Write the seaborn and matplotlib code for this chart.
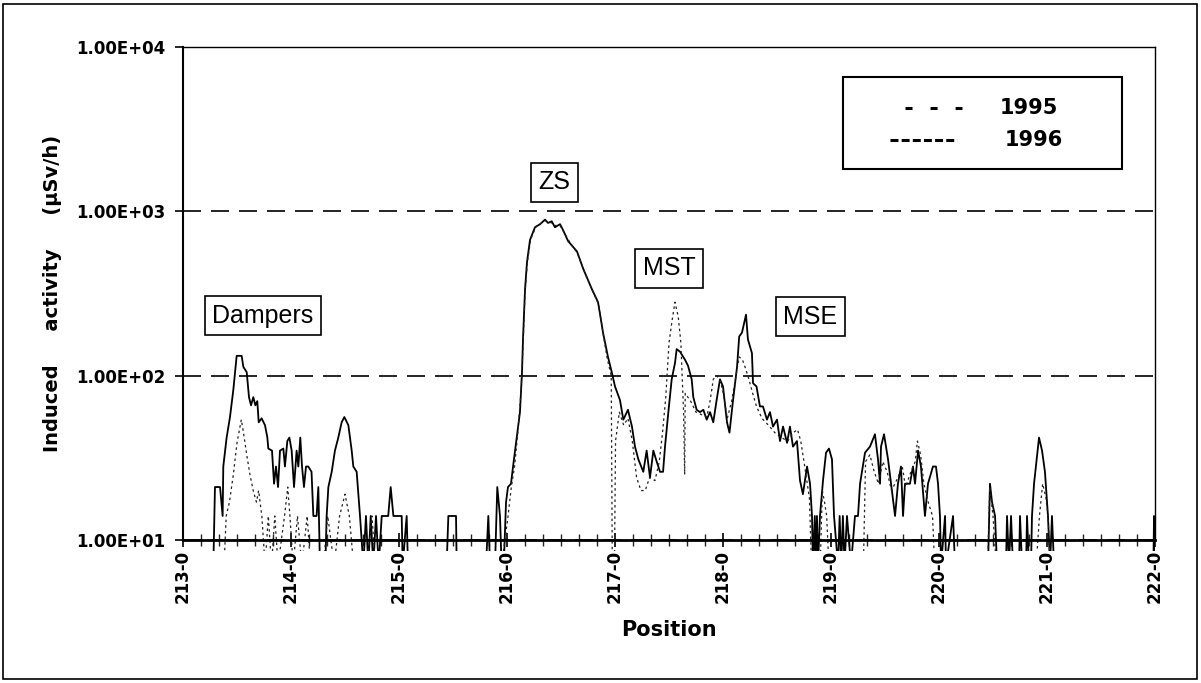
import matplotlib
matplotlib.use("Agg")
import matplotlib.pyplot as plt
import matplotlib.ticker as mticker
from matplotlib.patches import Rectangle
from matplotlib.lines import Line2D
import seaborn as sns

# Data: position along the line and induced activity (uSv/h)
# values of 7 stand for readings under the 10 uSv/h floor of the axis
pos_1996 = [
    213.000, 213.281, 213.296, 213.343, 213.367, 213.373, 213.404, 213.435, 213.466, 213.497,
    213.543, 213.559, 213.590, 213.611, 213.630, 213.651, 213.670, 213.688, 213.701, 213.728,
    213.759, 213.781, 213.790, 213.824, 213.843, 213.861, 213.880, 213.898, 213.929, 213.944,
    213.966, 213.985, 214.006, 214.028, 214.052, 214.068, 214.086, 214.102, 214.120, 214.139,
    214.160, 214.190, 214.207, 214.237, 214.253, 214.268, 214.318, 214.330, 214.346, 214.377,
    214.407, 214.438, 214.469, 214.494, 214.531, 214.562, 214.577, 214.608, 214.639, 214.670,
    214.694, 214.716, 214.738, 214.762, 214.787, 214.812, 214.840, 214.900, 214.923, 214.948,
    215.025, 215.034, 215.071, 215.083, 215.441, 215.457, 215.528, 215.534, 215.806, 215.827,
    215.843, 215.889, 215.910, 215.935, 215.950, 215.970, 215.991, 216.009, 216.037, 216.056,
    216.090, 216.120, 216.139, 216.148, 216.167, 216.185, 216.213, 216.259, 216.306, 216.352,
    216.380, 216.414, 216.444, 216.491, 216.519, 216.565, 216.648, 216.707, 216.787, 216.843,
    216.889, 216.935, 216.970, 217.000, 217.046, 217.077, 217.120, 217.157, 217.185, 217.216,
    217.262, 217.293, 217.324, 217.355, 217.386, 217.417, 217.445, 217.463, 217.494, 217.525,
    217.556, 217.571, 217.602, 217.648, 217.676, 217.710, 217.725, 217.756, 217.787, 217.818,
    217.849, 217.880, 217.910, 217.941, 217.972, 218.000, 218.037, 218.060, 218.093, 218.130,
    218.150, 218.176, 218.213, 218.231, 218.268, 218.278, 218.310, 218.342, 218.370, 218.407,
    218.435, 218.463, 218.500, 218.528, 218.556, 218.593, 218.620, 218.648, 218.685, 218.713,
    218.740, 218.778, 218.806, 218.824, 218.833, 218.850, 218.858, 218.870, 218.880, 218.898,
    218.926, 218.954, 218.981, 219.009, 219.028, 219.065, 219.080, 219.095, 219.110, 219.125,
    219.148, 219.185, 219.222, 219.250, 219.269, 219.315, 219.361, 219.407, 219.435, 219.454,
    219.463, 219.491, 219.528, 219.556, 219.593, 219.620, 219.648, 219.667, 219.685, 219.731,
    219.759, 219.778, 219.806, 219.833, 219.870, 219.898, 219.944, 219.972, 219.991, 220.009,
    220.019, 220.056, 220.065, 220.130, 220.148, 220.454, 220.472, 220.491, 220.519, 220.537,
    220.620, 220.630, 220.648, 220.667, 220.685, 220.741, 220.750, 220.769, 220.806, 220.815,
    220.833, 220.852, 220.861, 220.880, 220.926, 220.954, 220.981, 221.009, 221.028, 221.046,
    221.065, 221.985, 221.991, 222.000,
]
act_1996 = [
    7, 7, 21, 21, 14, 28, 42, 56, 82, 132,
    132, 113, 105, 74, 66, 74, 66, 70, 52, 55,
    50, 42, 36, 35, 22, 28, 21, 35, 36, 28,
    40, 42, 35, 21, 35, 28, 42, 28, 21, 28,
    28, 26, 14, 14, 21, 7, 7, 14, 21, 26,
    35, 42, 52, 56, 50, 35, 28, 26, 14, 7,
    14, 7, 14, 7, 14, 7, 14, 14, 21, 14,
    14, 7, 14, 7, 7, 14, 14, 7, 7, 14,
    7, 7, 21, 14, 7, 7, 17, 21, 22, 28,
    42, 60, 105, 166, 335, 490, 670, 800, 835, 890,
    850, 870, 800, 835, 770, 660, 570, 445, 335, 280,
    183, 130, 105, 86, 71, 54, 62, 49, 37, 31,
    26, 35, 24, 35, 30, 26, 26, 37, 60, 95,
    120, 145, 140, 125, 115, 95, 74, 62, 60, 62,
    54, 60, 52, 71, 95, 86, 52, 45, 71, 113,
    173, 183, 235, 166, 137, 90, 86, 65, 65, 54,
    60, 49, 54, 40, 49, 39, 49, 37, 40, 23,
    19, 28, 22, 14, 7, 14, 7, 14, 7, 14,
    23, 34, 36, 31, 14, 7, 14, 7, 14, 7,
    14, 7, 14, 14, 22, 34, 37, 44, 31, 22,
    37, 44, 31, 22, 14, 22, 28, 14, 22, 22,
    28, 22, 35, 28, 14, 22, 28, 28, 22, 14,
    7, 14, 7, 14, 7, 7, 22, 17, 14, 7,
    7, 14, 7, 14, 7, 7, 14, 7, 7, 14,
    7, 7, 14, 22, 42, 35, 26, 14, 7, 14,
    7, 7, 14, 7,
]

pos_1995 = [
    213.000, 213.380, 213.400, 213.430, 213.466, 213.500, 213.540, 213.560, 213.590, 213.620,
    213.650, 213.680, 213.700, 213.730, 213.760, 213.790, 213.820, 213.850, 213.880, 213.940,
    213.970, 213.990, 214.020, 214.060, 214.100, 214.150, 214.180, 214.300, 214.340, 214.400,
    214.450, 214.500, 214.540, 214.580, 214.700, 214.750, 214.780, 215.950, 216.010, 216.040,
    216.070, 216.100, 216.130, 216.148, 216.167, 216.190, 216.220, 216.270, 216.320, 216.360,
    216.400, 216.440, 216.490, 216.540, 216.600, 216.650, 216.710, 216.790, 216.850, 216.890,
    216.930, 216.965, 216.975, 216.995, 217.005, 217.040, 217.080, 217.120, 217.160, 217.200,
    217.240, 217.280, 217.320, 217.370, 217.410, 217.440, 217.470, 217.500, 217.530, 217.555,
    217.585, 217.610, 217.635, 217.645, 217.650, 217.700, 217.750, 217.800, 217.850, 217.880,
    217.910, 217.940, 217.970, 218.000, 218.040, 218.080, 218.120, 218.150, 218.180, 218.210,
    218.240, 218.270, 218.310, 218.360, 218.420, 218.480, 218.540, 218.600, 218.650, 218.690,
    218.720, 218.750, 218.780, 218.800, 218.820, 218.900, 218.920, 218.940, 218.960, 218.980,
    219.300, 219.320, 219.360, 219.400, 219.440, 219.480, 219.520, 219.560, 219.620, 219.660,
    219.690, 219.740, 219.780, 219.800, 219.830, 219.860, 219.900, 219.940, 219.960, 220.450,
    220.470, 220.500, 220.530, 220.900, 220.930, 220.960, 220.990, 221.010, 221.030, 222.000,
]
act_1995 = [
    7, 7, 14, 17, 25, 39, 54, 45, 33, 25,
    20, 17, 20, 14, 7, 14, 7, 14, 7, 14,
    21, 14, 7, 14, 7, 14, 7, 7, 14, 7,
    14, 19, 14, 7, 7, 14, 7, 7, 14, 21,
    28, 45, 80, 150, 320, 500, 680, 810, 850, 880,
    860, 820, 820, 720, 620, 560, 440, 330, 270, 180,
    125, 100, 7, 7, 40, 60, 50, 55, 40, 24,
    20, 20, 24, 23, 30, 45, 74, 158, 220, 280,
    230, 158, 60, 25, 78, 70, 60, 58, 56, 70,
    95, 100, 95, 80, 55, 70, 100, 130, 125, 110,
    95, 80, 65, 55, 50, 45, 42, 40, 45, 47,
    40, 30, 22, 18, 7, 7, 20, 17, 14, 7,
    7, 30, 33, 26, 22, 30, 26, 20, 24, 28,
    21, 26, 30, 40, 33, 22, 17, 14, 7, 7,
    21, 14, 7, 7, 14, 22, 18, 14, 7, 7,
]

x_ticks = list(range(213, 223))
y_ticks = [10, 100, 1000, 10000]
years = ["1995", "1996"]
tags = ["Dampers", "ZS", "MST", "MSE"]


def px(x, y):
    """Pixel position on the 1201x683 canvas -> figure fraction."""
    return x / 1201, 1 - y / 683


sns.set_style("ticks")
plt.rcParams["font.family"] = ["DejaVu Sans"]
plt.rcParams["text.color"] = "black"
plt.rcParams["axes.labelcolor"] = "black"

fig = plt.figure(figsize=(12.01, 6.83), dpi=100)
ax = fig.add_axes([183 / 1201, 1 - 540 / 683, 972 / 1201, 493 / 683])

# lines may dip a little under the floor, as in the scan
floor_clip = Rectangle((0, -0.023), 1, 1.023, transform=ax.transAxes)

sns.lineplot(x=pos_1996, y=act_1996, ax=ax, color="black", lw=1.3,
             estimator=None, sort=False)
sns.lineplot(x=pos_1995, y=act_1995, ax=ax, color="#222222", lw=0.9,
             estimator=None, sort=False, linestyle=(0, (2, 2.5)))
for line in ax.get_lines():
    line.set_clip_path(floor_clip)

ax.set_yscale("log")
ax.set_xlim(213, 222)
ax.set_ylim(10, 10000)

ax.yaxis.set_major_locator(mticker.FixedLocator(y_ticks))
ax.yaxis.set_minor_locator(mticker.NullLocator())
ax.yaxis.set_major_formatter(mticker.FuncFormatter(lambda v, p: "{:.2E}".format(v)))
ax.xaxis.set_major_locator(mticker.FixedLocator(x_ticks))
ax.xaxis.set_minor_locator(mticker.MultipleLocator(1 / 6))
ax.xaxis.set_major_formatter(mticker.FuncFormatter(lambda v, p: "%d-0" % round(v)))

ax.tick_params(axis="x", which="major", direction="inout", length=10, width=1.2,
               pad=2, labelsize=12, labelrotation=90, colors="black")
ax.tick_params(axis="x", which="minor", direction="inout", length=8, width=1.0)
ax.tick_params(axis="y", which="major", direction="out", length=6, width=1.2,
               pad=7, labelsize=12, colors="black")
for lab in ax.get_xticklabels() + ax.get_yticklabels():
    lab.set_fontweight("bold")

for side in ["top", "right"]:
    ax.spines[side].set_linewidth(1.0)
ax.spines["left"].set_linewidth(1.5)
ax.spines["bottom"].set_linewidth(2.0)
for sp in ax.spines.values():
    sp.set_color("black")

ax.grid(axis="y", which="major", color="black", lw=1.2, linestyle=(0, (10.8, 6)))
ax.grid(axis="x", visible=False)

ax.set_xlabel("Position", fontsize=15, fontweight="bold", labelpad=12, color="black")
ax.set_ylabel("Induced     activity     (\u00b5Sv/h)", fontsize=14,
              fontweight="bold", labelpad=10, color="black")

# boxed labels for the machine elements
tag_xy = {"Dampers": (213.74, 232), "ZS": (216.44, 1500),
          "MST": (217.50, 450), "MSE": (218.81, 229)}
for t in tags:
    ax.text(tag_xy[t][0], tag_xy[t][1], t, ha="center", va="center", color="black",
            fontsize=18, family=["Liberation Sans", "DejaVu Sans"],
            bbox=dict(boxstyle="square,pad=0.3", fc="white", ec="black", lw=1.2))

# legend drawn as in the original: framed box with sparse and dense dashes
x0, y1 = px(843, 77)
x1, y0 = px(1122, 169)
fig.add_artist(Rectangle((x0, y0), x1 - x0, y1 - y0, transform=fig.transFigure,
                         fill=False, ec="black", lw=1.5))
dash_styles = [(0, (2.3, 5.9)), (0, (2.6, 1.05))]
row_y = [108, 140]
line_x = [(905, 962), (890, 957)]
text_x = [1000, 1005]
for yr, ds, ry, lx, tx in zip(years, dash_styles, row_y, line_x, text_x):
    xa, ya = px(lx[0], ry)
    xb, _ = px(lx[1], ry)
    fig.add_artist(Line2D([xa, xb], [ya, ya], transform=fig.transFigure,
                          color="black", lw=2.2, linestyle=ds))
    fx, fy = px(tx, ry)
    fig.text(fx, fy, yr, ha="left", va="center", fontsize=15, fontweight="bold",
             color="black")

# outer frame of the page
bx0, by1 = px(3, 4)
bx1, by0 = px(1197, 679)
fig.add_artist(Rectangle((bx0, by0), bx1 - bx0, by1 - by0, transform=fig.transFigure,
                         fill=False, ec="black", lw=1.2))

fig.savefig("out.png", dpi=100)
